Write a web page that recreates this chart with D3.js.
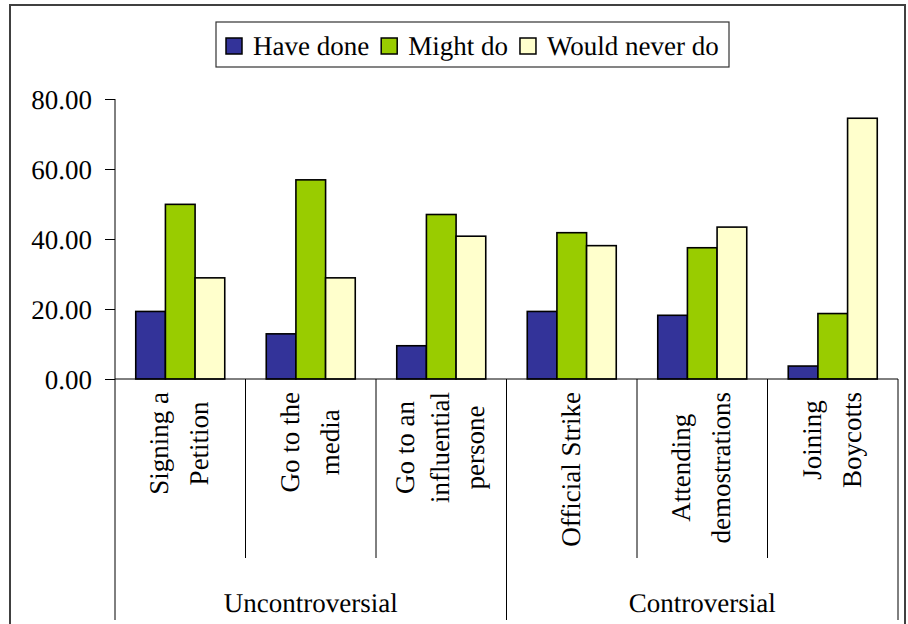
<!DOCTYPE html>
<html>
<head>
<meta charset="utf-8">
<script src="https://cdn.jsdelivr.net/npm/d3@7/dist/d3.min.js"></script>
<style>
  html, body { margin: 0; padding: 0; background: #fff; }
  svg { display: block; }
  text { text-rendering: geometricPrecision; }
</style>
</head>
<body>
<svg id="chart" width="908" height="624"></svg>
<script>
// ---- data ----
const categories = ["Signing a Petition", "Go to the media", "Go to an influential persone",
                    "Official Strike", "Attending demostrations", "Joining Boycotts"];
const categoryLines = [["Signing a", "Petition"], ["Go to the", "media"], ["Go to an", "influential", "persone"],
                       ["Official Strike"], ["Attending", "demostrations"], ["Joining", "Boycotts"]];
const groups = ["Uncontroversial", "Controversial"];
const groupSizes = [3, 3];
const seriesNames = ["Have done", "Might do", "Would never do"];
const haveDone = [19.3, 12.9, 9.5, 19.3, 18.2, 3.7];
const mightDo  = [49.9, 56.9, 47.0, 41.8, 37.5, 18.7];
const neverDo  = [28.9, 28.9, 40.8, 38.1, 43.4, 74.5];
const yTicks = [0, 20, 40, 60, 80];
const colors = ["#333399", "#99CC00", "#FFFFCC"];

(function () {
const seriesValues = [haveDone, mightDo, neverDo];
const svg = d3.select("#chart");
const FONT = 27;
const SERIF = "'Liberation Serif', 'Times New Roman', serif";
const styleText = sel => sel.style("font-family", SERIF).style("font-size", FONT + "px").style("fill", "#000");

// outer chart border
svg.append("rect").attr("x", 10).attr("y", 5).attr("width", 895).attr("height", 660)
  .attr("fill", "none").attr("stroke", "#404040").attr("stroke-width", 2);

const pLeft = 115, pRight = 898, pTop = 99, pBottom = 379;

const x0 = d3.scaleBand().domain(categories).range([pLeft, pRight]).paddingInner(0.318).paddingOuter(0.159);
const x1 = d3.scaleBand().domain(seriesNames).range([0, x0.bandwidth()]);
const y = d3.scaleLinear().domain([0, 80]).range([pBottom, pTop]);

// y axis
const yAxis = d3.axisLeft(y).tickValues(yTicks).tickFormat(d3.format(".2f")).tickSize(10).tickPadding(13);
const gy = svg.append("g").attr("transform", `translate(${pLeft},0)`).call(yAxis);
gy.attr("font-family", null).attr("font-size", null);
gy.select(".domain").remove();
gy.selectAll(".tick line").attr("stroke", "#000");
styleText(gy.selectAll(".tick text")).attr("dy", "0.34em");

// bars
const rows = categories.map((c, i) => ({ c, vals: seriesNames.map((s, j) => ({ s, v: seriesValues[j][i], j })) }));
const gBars = svg.append("g");
rows.forEach(r => {
  gBars.selectAll(null).data(r.vals).enter().append("rect")
    .attr("x", d => x0(r.c) + x1(d.s))
    .attr("y", d => y(d.v))
    .attr("width", x1.bandwidth())
    .attr("height", d => y(0) - y(d.v))
    .attr("fill", d => colors[d.j])
    .attr("stroke", "#000").attr("stroke-width", 1.6);
});

// axis lines
const step = x0.step();
svg.append("line").attr("x1", pLeft).attr("x2", pLeft).attr("y1", pTop).attr("y2", 620).attr("stroke", "#000");
svg.append("line").attr("x1", pLeft).attr("x2", pRight).attr("y1", pBottom).attr("y2", pBottom).attr("stroke", "#000");

// category dividers
let cum = 0;
const groupBounds = [0];
groupSizes.forEach(s => { cum += s; groupBounds.push(cum); });
for (let k = 1; k <= categories.length; k++) {
  const xx = pLeft + k * step;
  const isGroup = groupBounds.includes(k);
  svg.append("line").attr("x1", xx).attr("x2", xx).attr("y1", pBottom).attr("y2", isGroup ? 620 : 558)
    .attr("stroke", "#000");
}

// rotated category labels
categories.forEach((c, i) => {
  const lines = categoryLines[i];
  const n = lines.length;
  const L = n === 3 ? 35 : 40;
  const cx = x0(c) + x0.bandwidth() / 2;
  const g = svg.append("g").attr("transform", `translate(${cx},0) rotate(-90)`);
  const texts = lines.map((ln, k) => styleText(g.append("text").text(ln))
    .attr("text-anchor", "middle")
    .attr("y", 8 + (k - (n - 1) / 2) * L));
  const maxLen = d3.max(texts, t => t.node().getComputedTextLength());
  const yc = 392 + maxLen / 2;
  texts.forEach(t => t.attr("x", -yc));
});

// group labels
let start = 0;
groups.forEach((gname, gi) => {
  const a = pLeft + start * step, b = pLeft + (start + groupSizes[gi]) * step;
  styleText(svg.append("text").text(gname)).attr("x", (a + b) / 2).attr("y", 612)
    .attr("text-anchor", "middle");
  start += groupSizes[gi];
});

// legend
const lg = svg.append("g");
lg.append("rect").attr("x", 216).attr("y", 22).attr("width", 513).attr("height", 45)
  .attr("fill", "#fff").attr("stroke", "#333").attr("stroke-width", 1.2);
let lx = 226;
seriesNames.forEach((s, j) => {
  lg.append("rect").attr("x", lx).attr("y", 38).attr("width", 16).attr("height", 16)
    .attr("fill", colors[j]).attr("stroke", "#000").attr("stroke-width", 1.5);
  lx += 27;
  const t = styleText(lg.append("text").text(s)).attr("x", lx).attr("y", 55);
  lx += t.node().getComputedTextLength() + 12;
});
})();
</script>
</body>
</html>
